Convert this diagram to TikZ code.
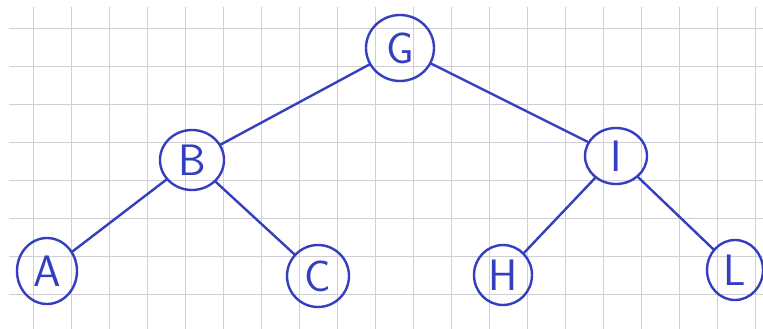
\documentclass[tikz,border=0pt]{standalone}
\usetikzlibrary{shapes.geometric}
\definecolor{ink}{RGB}{52,62,190}
\definecolor{gridgray}{RGB}{205,206,214}
\tikzset{
  gridline/.style={draw=gridgray, line width=0.9pt},
  vertex/.style={ellipse, draw=ink, line width=2.4pt, inner sep=0pt,
    text=ink, font=\sffamily\fontsize{44}{44}\selectfont},
  branch/.style={draw=ink, line width=2.4pt, line cap=round},
}
\begin{document}
\begin{tikzpicture}[x=1pt, y=-1pt]
  \useasboundingbox (0,0) rectangle (763,329);
  \fill[white] (0,0) rectangle (763,329);
  % squared paper
  \foreach \k in {0,...,19} {
    \draw[gridline] ({33+38*\k},7) -- ({33+38*\k},329);
  }
  \foreach \k in {0,...,7} {
    \draw[gridline] (9,{28+38*\k}) -- (763,{28+38*\k});
  }
  % tree nodes
  \node[vertex, minimum width=68pt, minimum height=66pt] (G) at (400,48) {G};
  \node[vertex, minimum width=64pt, minimum height=60pt] (B) at (192,160) {B};
  \node[vertex, minimum width=62pt, minimum height=56pt] (I) at (616,156) {I};
  \node[vertex, minimum width=60pt, minimum height=66pt] (A) at (47,271) {A};
  \node[vertex, minimum width=62pt, minimum height=62pt] (C) at (318,276) {C};
  \node[vertex, minimum width=58pt, minimum height=60pt] (H) at (503,275) {H};
  \node[vertex, minimum width=56pt, minimum height=60pt] (L) at (735,270) {L};
  % branches
  \draw[branch] (G) -- (B);
  \draw[branch] (G) -- (I);
  \draw[branch] (B) -- (A);
  \draw[branch] (B) -- (C);
  \draw[branch] (I) -- (H);
  \draw[branch] (I) -- (L);
\end{tikzpicture}
\end{document}
